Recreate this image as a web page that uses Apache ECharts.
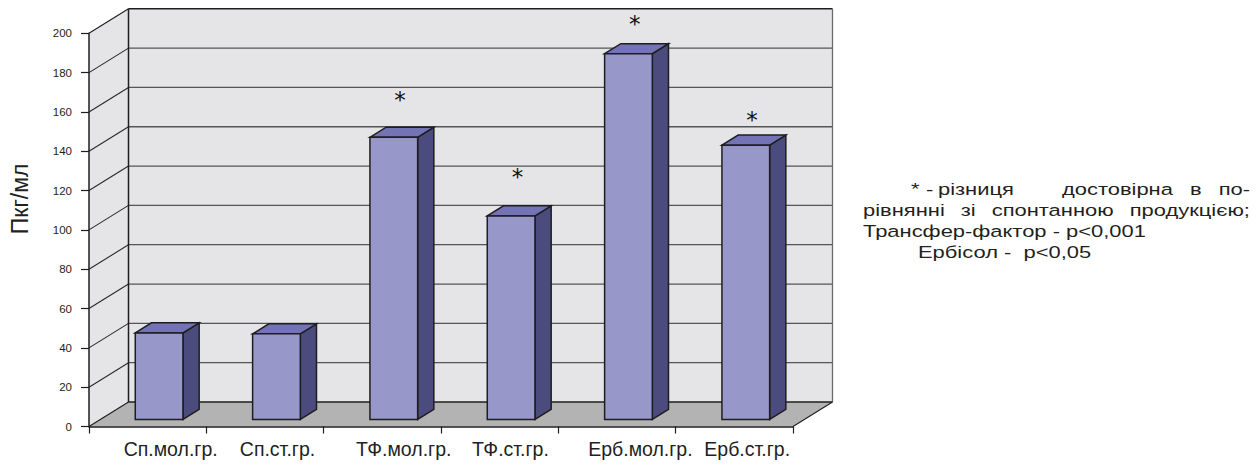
<!DOCTYPE html>
<html>
<head>
<meta charset="utf-8">
<script src="https://cdn.jsdelivr.net/npm/echarts@6/dist/echarts.min.js"></script>
<style>
  html, body { margin: 0; padding: 0; background: #ffffff; }
  #chart { width: 1259px; height: 472px; }
</style>
</head>
<body>
<div id="chart"></div>
<script>
// Groups and measured cytokine levels, pg/ml
const categories = ['Сп.мол.гр.', 'Сп.ст.гр.', 'ТФ.мол.гр.', 'ТФ.ст.гр.', 'Ерб.мол.гр.', 'Ерб.ст.гр.'];
const values = [44, 43.5, 143.5, 103.5, 186, 139.5];
// Height (axis units) at which a significance mark is placed; null = no mark
const starLevels = [null, null, 169, 130, 208, 159];
// Value axis ticks
const yMin = 0;
const yMax = 200;
const yStep = 20;

// Footnote lines (split into words for justified setting)
const noteLine1Lead = ['*', '-', 'різниця'];
const noteLine1Tail = ['достовірна', 'в', 'по-'];
const noteLine2 = ['рівнянні', 'зі', 'спонтанною', 'продукцією;'];
const noteLine3 = 'Трансфер-фактор - p<0,001';
const noteLine4 = 'Ербісол -  p<0,05';

// Oblique projection of the depth axis (pixels for the full depth)
const DX = 39.5;
const DY = -24.5;
// Bar depth span (fractions of the full depth) and width share of a band
const D0 = 0.29;
const D1 = 0.70;
const BAR_SHARE = 0.4065;

const WALL = '#e5e5e7';
const FLOOR = '#b3b3b3';
const GRID = '#555555';
const EDGE = '#1e1e1e';
const INK = '#231f20';

const chart = echarts.init(document.getElementById('chart'), null, { renderer: 'svg' });

function line(x1, y1, x2, y2, color, w) {
  return { type: 'line', shape: { x1, y1, x2, y2 }, style: { stroke: color, lineWidth: w }, silent: true };
}
function poly(points, fill, stroke, w) {
  return { type: 'polygon', shape: { points }, style: { fill, stroke: stroke || null, lineWidth: w || 0, lineJoin: 'miter' }, silent: true };
}

// Walls, floor and their grid lines
function renderWalls(params, api) {
  const cs = params.coordSys;
  const L = cs.x, R = cs.x + cs.width, T = cs.y, B = cs.y + cs.height;
  const kids = [];
  kids.push(poly([[L, B], [L, T], [L + DX, T + DY], [L + DX, B + DY]], WALL));
  kids.push(poly([[L + DX, T + DY], [R + DX, T + DY], [R + DX, B + DY], [L + DX, B + DY]], WALL));
  kids.push(poly([[L, B], [R, B], [R + DX, B + DY], [L + DX, B + DY]], FLOOR));
  for (let v = yMin; v <= yMax; v += yStep) {
    const y = api.coord([0, v])[1];
    const edge = (v === yMin || v === yMax);
    kids.push(line(L + DX, y + DY, R + DX, y + DY, edge ? EDGE : GRID, edge ? 1.5 : 1.3));
    kids.push(line(L, y, L + DX, y + DY, edge ? EDGE : '#2a2a2a', 1.1));
  }
  kids.push(line(L + DX, T + DY, L + DX, B + DY, EDGE, 1.5));
  kids.push(line(R + DX, T + DY, R + DX, B + DY, '#6a6a6a', 1.3));
  kids.push(line(R, B, R + DX, B + DY, EDGE, 1.1));
  return { type: 'group', children: kids };
}

// One 3D column per group, plus its category label under the floor
function renderBar(params, api) {
  const idx = api.value(0);
  const val = api.value(1);
  const top = api.coord([idx, val]);
  const base = api.coord([idx, 0]);
  const band = api.size([1, 0])[0];
  const w = band * BAR_SHARE;
  const x0 = top[0] - w / 2 + D0 * DX;
  const x1 = x0 + w;
  const yT = top[1] + D0 * DY;
  const yB = base[1] + D0 * DY;
  const ddx = (D1 - D0) * DX;
  const ddy = (D1 - D0) * DY;
  const kids = [
    poly([[x1, yT], [x1 + ddx, yT + ddy], [x1 + ddx, yB + ddy], [x1, yB]], '#4b4b7e', EDGE, 1.5),
    poly([[x0, yT], [x0 + ddx, yT + ddy], [x1 + ddx, yT + ddy], [x1, yT]], '#7373b6', EDGE, 1.5),
    poly([[x0, yT], [x1, yT], [x1, yB], [x0, yB]], '#9797c9', EDGE, 1.5),
    {
      type: 'text',
      style: {
        text: categories[idx], x: base[0] - 24 - idx * 1.2, y: base[1] + 22,
        font: '19.5px "Liberation Sans", Arial, sans-serif', fill: INK,
        align: 'left', verticalAlign: 'middle'
      },
      silent: true
    }
  ];
  return { type: 'group', children: kids };
}

// Significance asterisks above the columns
function renderStar(params, api) {
  const idx = api.value(0);
  const p = api.coord([idx, api.value(1)]);
  return {
    type: 'text',
    style: {
      text: '*', x: p[0] + 0.5 * DX - 2, y: p[1] + 6,
      font: '23px "DejaVu Sans", sans-serif', fill: '#111111',
      align: 'center', verticalAlign: 'middle'
    },
    silent: true
  };
}

const barData = values.map((v, i) => [i, v]);
const starData = [];
starLevels.forEach((s, i) => { if (s !== null) starData.push([i, s]); });

// Footnote typesetting (horizontally widened sans)
const NOTE_SIZE = 17;
const noteFont = NOTE_SIZE + 'px "Liberation Sans", Arial, sans-serif';
const NOTE_SX = 1.29;
const measureCtx = document.createElement('canvas').getContext('2d');
measureCtx.font = noteFont;
function wordWidth(t) { return measureCtx.measureText(t).width * NOTE_SX; }
function noteText(text, x, y) {
  return {
    type: 'text', x, y, scaleX: NOTE_SX,
    style: { text, font: noteFont, fill: INK, align: 'left', verticalAlign: 'middle' },
    silent: true
  };
}
// Spread words evenly between two edges
function justify(words, left, right, y, out) {
  const widths = words.map(wordWidth);
  const total = widths.reduce((a, b) => a + b, 0);
  const gap = (right - left - total) / (words.length - 1);
  let x = left;
  words.forEach((t, i) => { out.push(noteText(t, x, y)); x += widths[i] + gap; });
}
const NOTE_L = 863, NOTE_R = 1250;
const graphics = [];
const lead = [911, 926, 938];
noteLine1Lead.forEach((t, i) => graphics.push(noteText(t, lead[i], 189)));
justify(noteLine1Tail, 1062, NOTE_R, 189, graphics);
justify(noteLine2, NOTE_L, NOTE_R, 210, graphics);
graphics.push(noteText(noteLine3, NOTE_L, 231));
graphics.push(noteText(noteLine4, 918, 252));

chart.setOption({
  animation: false,
  backgroundColor: '#ffffff',
  grid: { left: 89, top: 33.3, width: 704, height: 393.2 },
  xAxis: {
    type: 'category',
    data: categories,
    z: 10,
    axisLine: { show: true, lineStyle: { color: EDGE, width: 1.5 } },
    axisTick: { show: true, length: 7, lineStyle: { color: EDGE, width: 1.2 } },
    axisLabel: { show: false },
    splitLine: { show: false }
  },
  yAxis: {
    type: 'value',
    min: yMin, max: yMax, interval: yStep,
    z: 10,
    name: 'Пкг/мл',
    nameLocation: 'middle',
    nameRotate: 90,
    nameGap: 58,
    nameTextStyle: { fontFamily: '"Liberation Sans", Arial, sans-serif', fontSize: 23, color: INK, padding: [0, 0, 0, 62] },
    axisLine: { show: true, lineStyle: { color: EDGE, width: 1.5 } },
    axisTick: { show: true, length: 8, lineStyle: { color: EDGE, width: 1.2 } },
    axisLabel: { margin: 17, fontFamily: '"Liberation Sans", Arial, sans-serif', fontSize: 11.5, color: INK },
    splitLine: { show: false }
  },
  graphic: graphics,
  series: [
    { type: 'custom', name: 'walls', renderItem: renderWalls, data: [[0, 0]], z: 1, silent: true, clip: false },
    { type: 'custom', name: 'levels', renderItem: renderBar, data: barData, z: 3, silent: true, clip: false,
      encode: { x: 0, y: 1 } },
    { type: 'custom', name: 'marks', renderItem: renderStar, data: starData, z: 4, silent: true, clip: false,
      encode: { x: 0, y: 1 } }
  ]
});
</script>
</body>
</html>
